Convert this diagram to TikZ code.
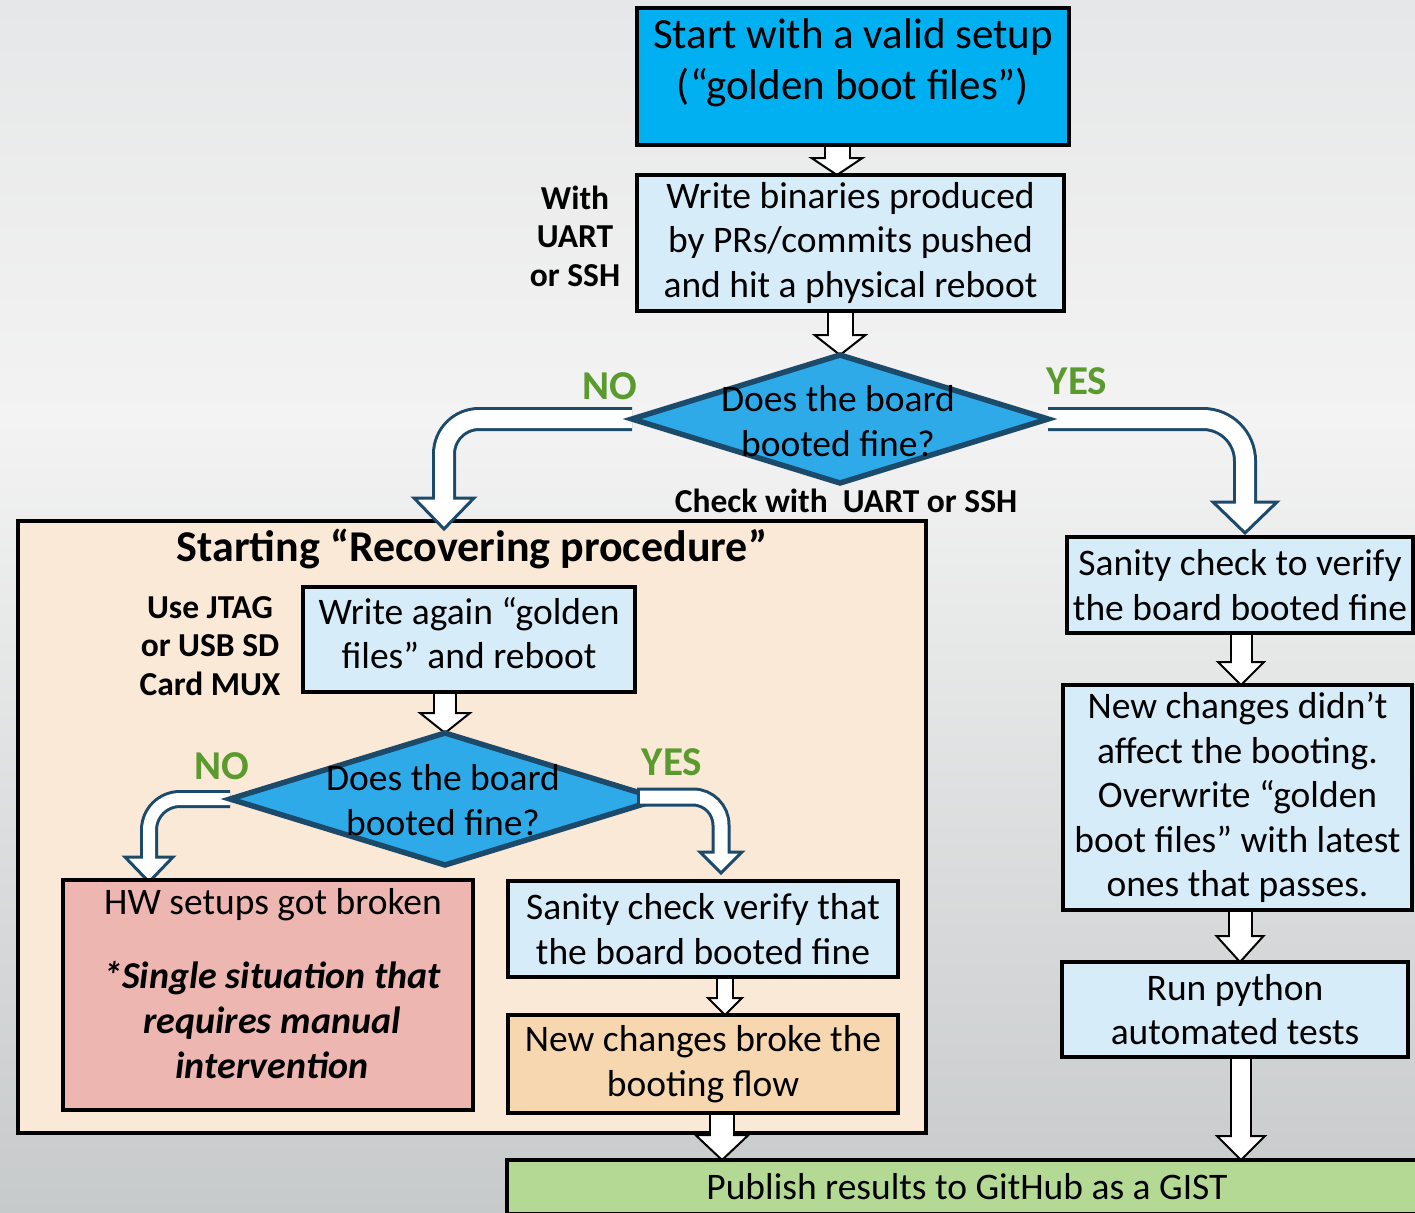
\documentclass[tikz,border=0pt]{standalone}
\usepackage{fontspec}
\setmainfont{Carlito}
\usetikzlibrary{shapes.geometric,calc}
\pgfdeclarelayer{bg}
\pgfdeclarelayer{arr}
\pgfdeclarelayer{front}
\pgfsetlayers{bg,arr,main,front}
\definecolor{startblue}{HTML}{00B0F0}
\definecolor{lblue}{HTML}{D6ECF9}
\definecolor{dfill}{HTML}{2FAAE8}
\definecolor{dblue}{HTML}{1B4A6B}
\definecolor{peach}{HTML}{FBE9D7}
\definecolor{mypink}{HTML}{EDB6B1}
\definecolor{mytan}{HTML}{F6D7AF}
\definecolor{lgreen}{HTML}{B3D994}
\definecolor{ygreen}{HTML}{5A9A2E}
\definecolor{bgtop}{HTML}{E6E7E8}
\definecolor{bgmid}{HTML}{F3F3F3}
\definecolor{bgbot}{HTML}{C7CACB}
% #1 extra options for inner line, #2 colour, #3 border, #4 shaft width,
% #5 head half width, #6 head length, #7 corner option, #8 path prefix, #9 tip
\newcommand\blockarrow[9][]{%
  \draw[#2, line width=#4, #7] #8 ($#9+(0,-#6)$);
  \filldraw[draw=#2, fill=white, line width=#3, line join=miter] ($#9+(-#5,-#6)$) -- ($#9+(#5,-#6)$) -- #9 -- cycle;
  \draw[white, line width=#4-2*#3, #7, #1] #8 ($#9+(0,-#6+#3)$);
}
\begin{document}
\begin{tikzpicture}[x=1pt,y=-1pt,
  box/.style={draw=black, line width=4, rectangle, inner sep=0, outer sep=0, align=center,
    font=\fontsize{37.5}{44.5}\selectfont},
  txt/.style={inner sep=0, outer sep=0, align=center, font=\fontsize{37.5}{44.5}\selectfont},
  dia/.style={diamond, draw=dblue, fill=dfill, line width=5.5, inner sep=0, outer sep=0},
  lbl/.style={inner sep=0, align=center, font=\bfseries\fontsize{33.5}{38.5}\selectfont},
  yn/.style={inner sep=0, font=\bfseries\fontsize{41}{44}\selectfont, text=ygreen},
  ttl/.style={inner sep=0, font=\bfseries\fontsize{44}{50}\selectfont}
]
\useasboundingbox (0,0) rectangle (1415,1212);
\begin{pgfonlayer}{bg}
\shade[top color=bgtop, bottom color=bgmid] (0,0) rectangle (1415,421);
\shade[top color=bgmid, bottom color=bgbot] (0,420) rectangle (1415,1212);
\node[box, fill=peach, minimum width=908, minimum height=612] (recov) at (472,827) {};
\end{pgfonlayer}

% top part
\node[box, fill=startblue, minimum width=432, minimum height=137] (start) at (853,76.5) {};
\node[txt, font=\fontsize{43}{51}\selectfont] (starttxt) at (853,63) {Start with a valid setup\\(“golden boot files”)};
\node[box, fill=lblue, minimum width=427, minimum height=136] (write) at (850.5,243)
  {Write binaries produced\\by PRs/commits pushed\\and hit a physical reboot};
\node[lbl] (withl) at (575,236) {With\\UART\\or SSH};

\node[dia, minimum width=416, minimum height=128] (d1) at (840,419) {};
\node[txt] (d1t) at (838,421) {Does the board\\booted fine?};
\node[yn] (no1) at (610,386) {NO};
\node[yn] (yes1) at (1077,381) {YES};
\node[lbl] (chk) at (846,501) {Check with\ \ UART or SSH};

% recovering procedure
\node[ttl] (rtitle) at (472,549) {Starting “Recovering procedure”};
\node[lbl] (jtag) at (210,646) {Use JTAG\\or USB SD\\Card MUX};
\node[box, fill=lblue, minimum width=332, minimum height=105] (again) at (469,639.5) {};
\node[txt] (againt) at (469,633) {Write again “golden\\files” and reboot};

\node[dia, minimum width=430, minimum height=132] (d2) at (445,799) {};
\node[txt] (d2t) at (443,800) {Does the board\\booted fine?};
\node[yn] (no2) at (222,766) {NO};
\node[yn] (yes2) at (672,762) {YES};

\node[box, fill=mypink, minimum width=410, minimum height=230] (hw) at (268,995) {};
\node[txt] (hwt) at (273,905) {HW setups got broken};
\node[txt, font=\bfseries\itshape\fontsize{38}{45}\selectfont] (hwi) at (272,1020)
  {*Single situation that\\requires manual\\intervention};

\node[box, fill=lblue, minimum width=390, minimum height=96] (san2) at (703,929)
  {Sanity check verify that\\the board booted fine};
\node[box, fill=mytan, minimum width=390, minimum height=98] (broke) at (703,1064)
  {New changes broke the\\booting flow};

% right column
\node[box, fill=lblue, minimum width=346, minimum height=96] (rsan) at (1240,585)
  {Sanity check to verify\\the board booted fine};
\node[box, fill=lblue, minimum width=349, minimum height=225] (didnt) at (1237.5,797.5)
  {New changes didn’t\\affect the booting.\\Overwrite “golden\\boot files” with latest\\ones that passes.};
\node[box, fill=lblue, minimum width=346, minimum height=95] (run) at (1235,1009.5)
  {Run python\\automated tests};
\node[box, fill=lgreen, minimum width=920, minimum height=54] (pub) at (967,1187)
  {Publish results to GitHub as a GIST};

% coordinates for arrow lines
\coordinate (a1) at (837,0);
\coordinate (t1) at (444,529);
\coordinate (t2) at (1245,533);
\coordinate (t3) at (149,882);
\coordinate (t4) at (721,873);
\coordinate (s4) at ($(d2.east)+(-23,-2)$);
\coordinate (a8) at (725,0);
\coordinate (a9) at (722,0);
\coordinate (a10) at (1241,0);
\coordinate (a11) at (1240,0);

\begin{pgfonlayer}{arr}
\blockarrow{black}{2}{27}{25.5}{17}{sharp corners}{(start.south -| a1) --}{(write.north -| a1)}
\blockarrow{black}{2}{27}{25.5}{20}{sharp corners}{(write.south -| d1.north) --}{(d1.north)}
\blockarrow{dblue}{3}{24}{30}{31}{rounded corners=35}{(d1.west) -- (d1.west -| t1) --}{(t1)}
\blockarrow{dblue}{3}{24}{32}{31}{rounded corners=42}{(d1.east) -- (d1.east -| t2) --}{(t2)}
\blockarrow{black}{2}{24}{25}{20}{sharp corners}{(again.south -| d2.north) --}{(d2.north)}
\blockarrow{dblue}{3}{18}{24}{25}{rounded corners=31}{(d2.west) -- (d2.west -| t3) --}{(t3)}
\blockarrow{black}{2}{18}{17}{17}{sharp corners}{(san2.south -| a8) --}{(broke.north -| a8)}
\blockarrow{black}{2}{26}{26.5}{25}{sharp corners}{(broke.south -| a9) --}{(pub.north -| a9)}
\blockarrow{black}{2}{23}{23}{23}{sharp corners}{(rsan.south -| a10) --}{(didnt.north -| a10)}
\blockarrow{black}{2}{25}{23.5}{26}{sharp corners}{(didnt.south -| a11) --}{(run.north -| a11)}
\blockarrow{black}{2}{22}{24}{24}{sharp corners}{(run.south -| a10) --}{(pub.north -| a10)}
\end{pgfonlayer}
\begin{pgfonlayer}{front}
\blockarrow[shorten <=3]{dblue}{3}{19}{21}{21}{rounded corners=28}{(s4) -- (s4 -| t4) --}{(t4)}
\end{pgfonlayer}
\end{tikzpicture}
\end{document}
